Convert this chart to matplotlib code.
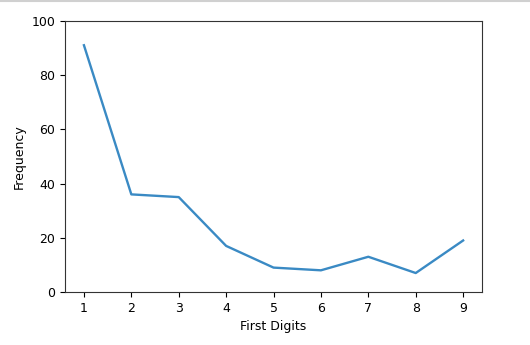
import matplotlib
matplotlib.use("Agg")
import matplotlib.pyplot as plt
from matplotlib.lines import Line2D

digits = [1, 2, 3, 4, 5, 6, 7, 8, 9]
frequency = [91, 36, 35, 17, 9, 8, 13, 7, 19]

plt.rcParams["font.size"] = 9
fig = plt.figure(figsize=(5.3, 3.45), dpi=100)
ax = fig.add_axes([0.1226, 0.1536, 0.787, 0.786])
ax.plot(digits, frequency, color="#3a8ac4", linewidth=1.7)
ax.set_ylim(0, 100)
ax.set_xticks(digits)
ax.set_xlabel("First Digits")
ax.set_ylabel("Frequency")
for s in ax.spines.values():
    s.set_color("#333333")
fig.add_artist(Line2D([0, 1], [0.997, 0.997], color="#d0d0d0", linewidth=1.5, transform=fig.transFigure))
fig.savefig("out.png", dpi=100)
